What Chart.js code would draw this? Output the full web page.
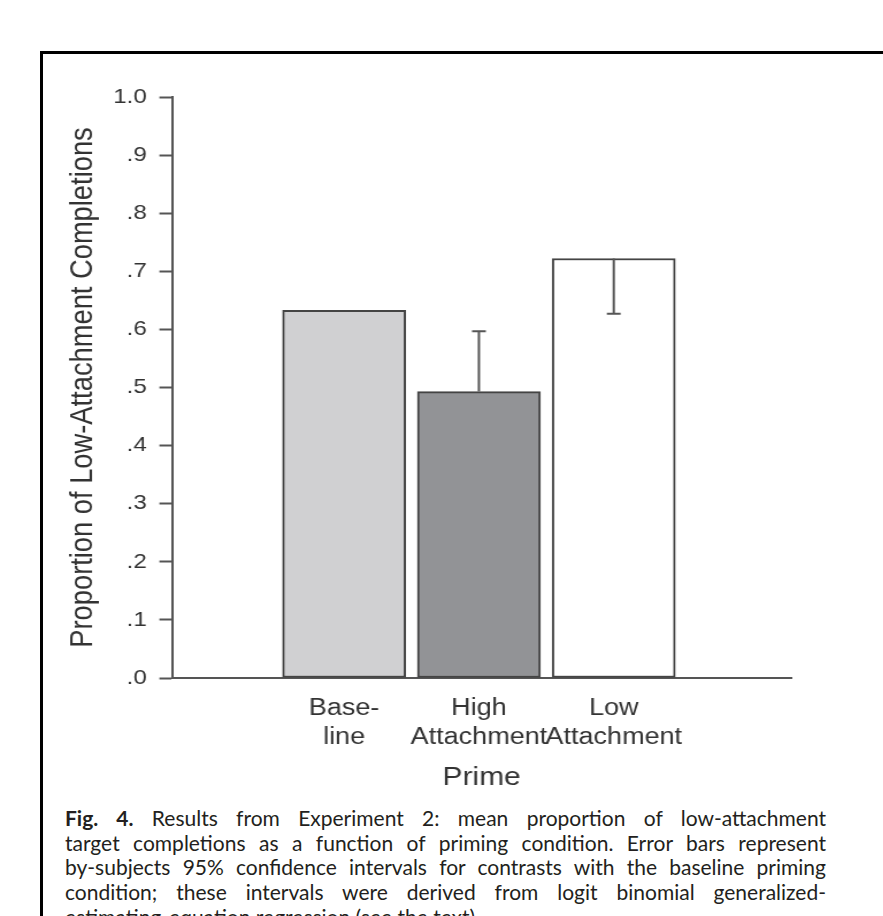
<!DOCTYPE html>
<html>
<head>
<meta charset="utf-8">
<script src="https://cdn.jsdelivr.net/npm/chart.js@4.4.1/dist/chart.umd.min.js"></script>
<style>
  html, body { margin: 0; padding: 0; background: #fff; }
  body { width: 883px; height: 916px; position: relative; overflow: hidden; }
  #frame {
    position: absolute; left: 40px; top: 51px; right: -10px; bottom: -10px;
    border-left: 3px solid #000; border-top: 3px solid #000;
  }
  #chart {
    position: absolute; left: 0; top: 0;
    transform: scaleX(1.15); transform-origin: 0 0;
  }
  #caption {
    position: absolute; left: 65px; width: 761px; top: 806px;
    font-family: Lato, "Open Sans", sans-serif; font-size: 21px; line-height: 24.7px;
    color: #231f20;
  }
  #caption div { white-space: nowrap; text-align: justify; text-align-last: justify; }
  #caption div.last { text-align-last: left; }
</style>
</head>
<body>
<div id="frame"></div>
<canvas id="chart" width="768" height="795"></canvas>
<div id="caption">
  <div><b>Fig. 4.</b> Results from Experiment 2: mean proportion of low-attachment</div>
  <div>target completions as a function of priming condition. Error bars represent</div>
  <div>by-subjects 95% confidence intervals for contrasts with the baseline priming</div>
  <div>condition; these intervals were derived from logit binomial generalized-</div>
  <div class="last">estimating-equation regression (see the text).</div>
</div>
<script>
// data
const categories = ['Baseline', 'High Attachment', 'Low Attachment'];
const tickLines = [['Base-', 'line'], ['High', 'Attachment'], ['Low', 'Attachment']];
const proportions = [0.633, 0.493, 0.722];
const errorEnds = [null, 0.597, 0.627];
const yTickLabels = ['.0', '.1', '.2', '.3', '.4', '.5', '.6', '.7', '.8', '.9', '1.0'];

const barColors = ['#d0d0d2', '#929396', '#ffffff'];
const axisColor = '#555';
const textColor = '#333';

Chart.defaults.font.family = '"Liberation Sans", Arial, sans-serif';

// one-sided error bars toward the baseline
const errorBarPlugin = {
  id: 'errorBars',
  afterDatasetsDraw(chart) {
    const { ctx, scales: { x, y } } = chart;
    ctx.save();
    ctx.strokeStyle = axisColor;
    ctx.lineWidth = 2;
    errorEnds.forEach((end, i) => {
      if (end === null) return;
      const px = x.getPixelForValue(i + 1);
      const y0 = y.getPixelForValue(proportions[i]);
      const y1 = y.getPixelForValue(end);
      ctx.beginPath();
      ctx.moveTo(px, y0);
      ctx.lineTo(px, y1);
      ctx.moveTo(px - 6, y1);
      ctx.lineTo(px + 6, y1);
      ctx.stroke();
    });
    ctx.restore();
  }
};

new Chart(document.getElementById('chart'), {
  type: 'bar',
  data: {
    datasets: [{
      data: categories.map((c, i) => ({ x: i + 1, y: proportions[i] })),
      backgroundColor: barColors,
      borderColor: '#444',
      borderWidth: 2,
      borderSkipped: false,
      barThickness: 107
    }]
  },
  options: {
    responsive: false,
    animation: false,
    devicePixelRatio: 1,
    layout: { padding: { left: 0, top: 97, right: 80, bottom: 0 } },
    plugins: { legend: { display: false }, tooltip: { enabled: false } },
    scales: {
      x: {
        type: 'linear',
        offset: false,
        min: -0.276,
        max: 4.316,
        afterBuildTicks: s => { s.ticks = categories.map((c, i) => ({ value: i + 1 })); },
        afterFit: s => { s.height = 117; },
        grid: { display: true, offset: false, drawOnChartArea: false, drawTicks: false },
        border: { color: axisColor, width: 2 },
        ticks: {
          autoSkip: false,
          maxRotation: 0,
          padding: 16,
          color: textColor,
          font: { size: 23.5, lineHeight: 1.23 },
          callback: v => tickLines[v - 1]
        },
        title: {
          display: true,
          text: 'Prime',
          color: textColor,
          font: { size: 26 },
          padding: { top: 0, bottom: 2 }
        }
      },
      y: {
        min: 0,
        max: 1,
        afterFit: s => { s.width = 149.6; },
        grid: { drawOnChartArea: false, drawTicks: true, tickLength: 11, tickColor: axisColor, tickWidth: 2 },
        border: { color: axisColor, width: 2 },
        ticks: {
          stepSize: 0.1,
          padding: 11,
          color: textColor,
          font: { size: 21 },
          callback: (v, i) => yTickLabels[i]
        },
        title: {
          display: true,
          text: 'Proportion of Low-Attachment Completions',
          color: textColor,
          font: { size: 27.3 },
          padding: { top: 56, bottom: 0 }
        }
      }
    }
  },
  plugins: [errorBarPlugin]
});
</script>
</body>
</html>
